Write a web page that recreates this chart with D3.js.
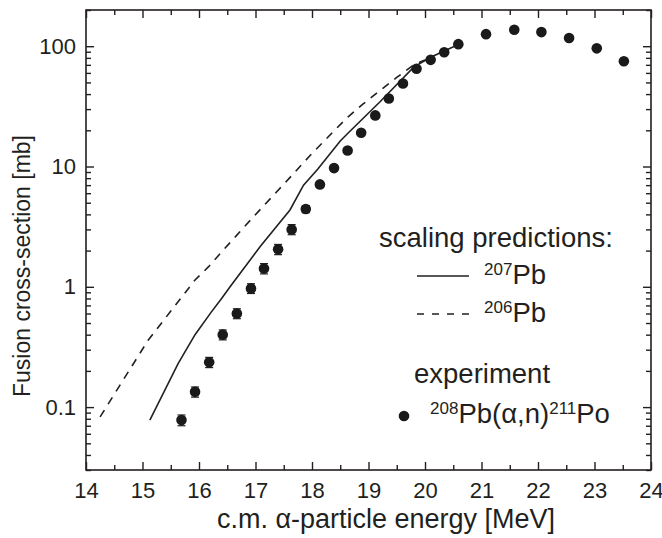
<!DOCTYPE html>
<html>
<head>
<meta charset="utf-8">
<script src="https://cdn.jsdelivr.net/npm/d3@7"></script>
<style>
  body { margin: 0; background: #fff; }
  text { font-family: "Liberation Sans", Arial, sans-serif; fill: #231f20; }
</style>
</head>
<body>
<div id="chart-area"></div>
<script>
// experiment: 208Pb(a,n)211Po
const expEnergy = [15.69, 15.93, 16.18, 16.42, 16.67, 16.92, 17.15, 17.40, 17.64, 17.89, 18.14, 18.39, 18.63, 18.87, 19.12, 19.36, 19.61, 19.85, 20.10, 20.34, 20.59, 21.08, 21.58, 22.06, 22.55, 23.04, 23.52];
const expSigma = [0.078, 0.134, 0.236, 0.40, 0.60, 0.97, 1.42, 2.05, 3.0, 4.43, 7.1, 9.7, 13.6, 19.1, 26.6, 36.8, 49, 65, 77, 89, 104, 126, 137, 131, 117, 96, 75];
const expErr = [0.008, 0.013, 0.023, 0.038, 0.057, 0.09, 0.14, 0.2, 0.29, 0.3, 0.4, 0.5, 0.6, 0.8, 1.1, 1.4, 1.8, 2.3, 2.7, 3.1, 3.6, 4.4, 4.8, 4.6, 4.1, 3.4, 2.6];

// scaling prediction 207Pb (solid)
const pb207Energy = [15.13, 15.63, 15.93, 16.21, 16.40, 16.55, 17.08, 17.61, 17.85, 18.10, 18.50, 18.64, 19.20, 19.80, 20.10, 20.62];
const pb207Sigma = [0.078, 0.23, 0.40, 0.61, 0.80, 1.0, 2.15, 4.35, 7.0, 9.5, 16.3, 19.0, 34.4, 67, 81, 105];

// scaling prediction 206Pb (dashed)
const pb206Energy = [14.25, 15.10, 15.93, 16.17, 16.43, 16.67, 16.99, 17.60, 17.97, 18.40, 18.64, 18.90, 19.50, 19.80, 20.00];
const pb206Sigma = [0.083, 0.36, 1.14, 1.47, 2.02, 2.69, 3.94, 8.0, 12.4, 20, 25.9, 33, 55, 70, 77];

const xTicks = [14, 15, 16, 17, 18, 19, 20, 21, 22, 23, 24];
const yTicks = [0.1, 1, 10, 100];
const yTickLabels = ["0.1", "1", "10", "100"];

const margin = { top: 10, right: 11, bottom: 68, left: 86 };
const width = 662 - margin.left - margin.right,
    height = 538 - margin.top - margin.bottom;
const ink = "#231f20";

const svg = d3.select("#chart-area").append("svg")
    .attr("width", 662)
    .attr("height", 538);
const g = svg.append("g")
    .attr("transform", "translate(" + margin.left + "," + margin.top + ")");

const x = d3.scaleLinear().domain([14, 24]).range([0, width]);
const y = d3.scaleLog().domain([0.03, 200]).range([height, 0]);

// minor ticks
let xMinor = [];
for (let v = 14.5; v < 24; v += 1) xMinor.push(v);
let yMinor = [];
[0.01, 0.1, 1, 10, 100].forEach(dec => {
    for (let k = 2; k <= 9; k++) {
        let v = dec * k;
        if (v >= 0.03 && v <= 200) yMinor.push(v);
    }
});

// axes, ticks pointing inward
function axisG(sel, axis) {
    sel.call(axis).call(s => s.select(".domain").remove());
    sel.selectAll("line").attr("stroke", ink).attr("stroke-width", 1.4);
}

const bottomMajor = d3.axisBottom(x).tickValues(xTicks).tickSize(-8).tickPadding(12).tickFormat(d3.format("d"));
const bottomMinor = d3.axisBottom(x).tickValues(xMinor).tickSize(-5).tickFormat("");
const topMajor = d3.axisTop(x).tickValues(xTicks).tickSize(-8).tickFormat("");
const topMinor = d3.axisTop(x).tickValues(xMinor).tickSize(-5).tickFormat("");
const leftMajor = d3.axisLeft(y).tickValues(yTicks).tickSize(-8).tickPadding(10).tickFormat((d, i) => yTickLabels[i]);
const leftMinor = d3.axisLeft(y).tickValues(yMinor).tickSize(-5).tickFormat("");
const rightMajor = d3.axisRight(y).tickValues(yTicks).tickSize(-8).tickFormat("");
const rightMinor = d3.axisRight(y).tickValues(yMinor).tickSize(-5).tickFormat("");

g.append("g").attr("transform", "translate(0," + height + ")").call(axisG, bottomMajor);
g.append("g").attr("transform", "translate(0," + height + ")").call(axisG, bottomMinor);
g.append("g").call(axisG, topMajor);
g.append("g").call(axisG, topMinor);
g.append("g").call(axisG, leftMajor);
g.append("g").call(axisG, leftMinor);
g.append("g").attr("transform", "translate(" + width + ",0)").call(axisG, rightMajor);
g.append("g").attr("transform", "translate(" + width + ",0)").call(axisG, rightMinor);

g.selectAll(".tick text")
    .style("font-size", "22px")
    .attr("fill", ink);

// frame
g.append("rect")
    .attr("width", width)
    .attr("height", height)
    .attr("fill", "none")
    .attr("stroke", ink)
    .attr("stroke-width", 1.6);

// prediction lines
const line = d3.line().x(d => x(d[0])).y(d => y(d[1]));

g.append("path")
    .datum(pb207Energy.map((e, i) => [e, pb207Sigma[i]]))
    .attr("d", line)
    .attr("fill", "none")
    .attr("stroke", ink)
    .attr("stroke-width", 1.6);

g.append("path")
    .datum(pb206Energy.map((e, i) => [e, pb206Sigma[i]]))
    .attr("d", line)
    .attr("fill", "none")
    .attr("stroke", ink)
    .attr("stroke-width", 1.6)
    .attr("stroke-dasharray", "8,7");

// experiment points with error bars
const pts = expEnergy.map((e, i) => ({ e: e, s: expSigma[i], err: expErr[i] }));

const eb = g.selectAll(".err").data(pts).enter().append("g").attr("class", "err");
eb.append("line")
    .attr("x1", d => x(d.e)).attr("x2", d => x(d.e))
    .attr("y1", d => y(d.s - d.err)).attr("y2", d => y(d.s + d.err))
    .attr("stroke", ink).attr("stroke-width", 1.2);
eb.append("line")
    .attr("x1", d => x(d.e) - 4).attr("x2", d => x(d.e) + 4)
    .attr("y1", d => y(d.s - d.err)).attr("y2", d => y(d.s - d.err))
    .attr("stroke", ink).attr("stroke-width", 1.2);
eb.append("line")
    .attr("x1", d => x(d.e) - 4).attr("x2", d => x(d.e) + 4)
    .attr("y1", d => y(d.s + d.err)).attr("y2", d => y(d.s + d.err))
    .attr("stroke", ink).attr("stroke-width", 1.2);

g.selectAll(".dot").data(pts).enter().append("circle")
    .attr("class", "dot")
    .attr("cx", d => x(d.e))
    .attr("cy", d => y(d.s))
    .attr("r", 5.3)
    .attr("fill", "#1a1a1a");

// axis titles
svg.append("text")
    .attr("x", 386)
    .attr("y", 528)
    .attr("text-anchor", "middle")
    .style("font-size", "27px")
    .text("c.m. \u03b1-particle energy [MeV]");

svg.append("text")
    .attr("transform", "translate(30,266) rotate(-90)")
    .attr("text-anchor", "middle")
    .style("font-size", "23px")
    .text("Fusion cross-section [mb]");

// legend
const leg = svg.append("g");
leg.append("text").attr("x", 379).attr("y", 247).style("font-size", "27.5px").text("scaling predictions:");

leg.append("line").attr("x1", 417).attr("x2", 469).attr("y1", 276).attr("y2", 276)
    .attr("stroke", ink).attr("stroke-width", 1.6);
let t1 = leg.append("text").attr("x", 484).attr("y", 284).style("font-size", "27.5px");
t1.append("tspan").attr("dy", -9).style("font-size", "17px").text("207");
t1.append("tspan").attr("dy", 9).text("Pb");

leg.append("line").attr("x1", 417).attr("x2", 469).attr("y1", 314).attr("y2", 314)
    .attr("stroke", ink).attr("stroke-width", 1.6).attr("stroke-dasharray", "7,8");
let t2 = leg.append("text").attr("x", 484).attr("y", 322).style("font-size", "27.5px");
t2.append("tspan").attr("dy", -9).style("font-size", "17px").text("206");
t2.append("tspan").attr("dy", 9).text("Pb");

leg.append("text").attr("x", 414).attr("y", 383).style("font-size", "27.5px").text("experiment");
leg.append("circle").attr("cx", 404).attr("cy", 416).attr("r", 5.3).attr("fill", "#1a1a1a");
let t3 = leg.append("text").attr("x", 430).attr("y", 423).style("font-size", "27.5px");
t3.append("tspan").attr("dy", -9).style("font-size", "17px").text("208");
t3.append("tspan").attr("dy", 9).text("Pb(\u03b1,n)");
t3.append("tspan").attr("dy", -9).style("font-size", "17px").text("211");
t3.append("tspan").attr("dy", 9).text("Po");
</script>
</body>
</html>
